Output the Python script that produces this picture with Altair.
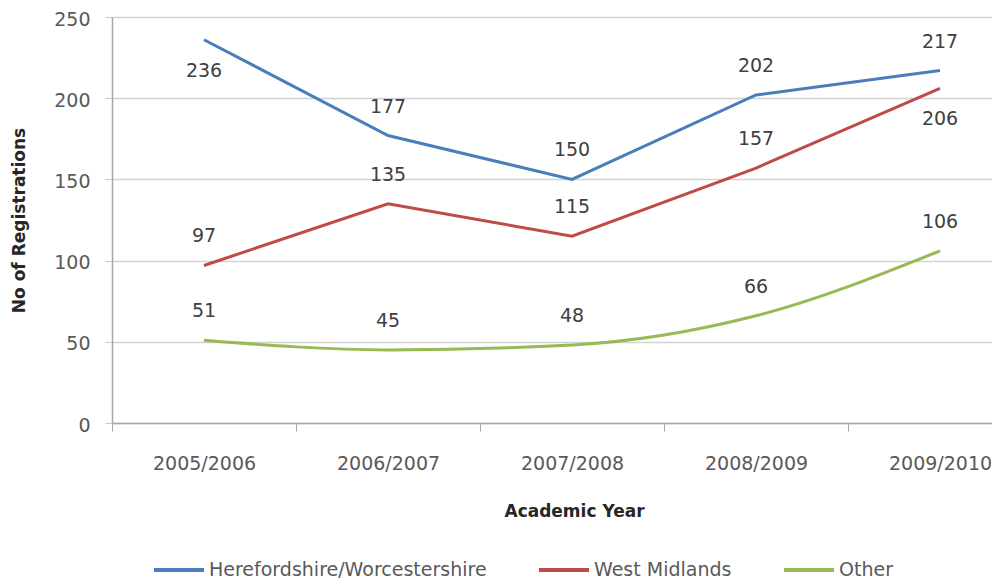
import json
import altair as alt
import pandas as pd

categories = ["2005/2006", "2006/2007", "2007/2008", "2008/2009", "2009/2010"]
series_names = ["Herefordshire/Worcestershire", "West Midlands", "Other"]
hw_values = [236, 177, 150, 202, 217]
wm_values = [97, 135, 115, 157, 206]
other_values = [51, 45, 48, 66, 106]
hw_label_side = ["below", "above", "above", "above", "above"]
wm_label_side = ["above", "above", "above", "above", "below"]
other_label_side = ["above", "above", "above", "above", "above"]
y_ticks = [0, 50, 100, 150, 200, 250]
colors = ["#4A7EBB", "#BE4B48", "#98B954"]

rows = []
for name, vals, sides in zip(series_names,
                             [hw_values, wm_values, other_values],
                             [hw_label_side, wm_label_side, other_label_side]):
    for i, (c, v, s) in enumerate(zip(categories, vals, sides)):
        rows.append({"idx": i, "year": c, "series": name, "value": v, "side": s})
df = pd.DataFrame(rows)

FONT = "DejaVu Sans"
PLOT_W = 880
PLOT_H = 406
STEP = 184
x_max = -0.5 + PLOT_W / STEP

tick_vals = []
for i in range(len(categories)):
    tick_vals.append(i - 0.5)
    tick_vals.append(i)

label_expr = "datum.value % 1 === 0 ? " + json.dumps(categories) + "[datum.value] : ''"

x_enc = alt.X(
    "idx:Q",
    scale=alt.Scale(domain=[-0.5, x_max], nice=False, zero=False),
    axis=alt.Axis(
        values=tick_vals,
        labelExpr=label_expr,
        tickOpacity={"condition": {"test": "datum.value % 1 === 0", "value": 0}, "value": 1},
        tickSize=8,
        tickColor="#a6a6a6",
        domainColor="#a6a6a6",
        domainWidth=1.5,
        labelPadding=23,
        labelFont=FONT,
        labelFontSize=19,
        labelColor="#595959",
        labelOverlap=False,
        labelFlush=False,
        labelBound=False,
        grid=False,
        title="Academic Year",
        titleFont=FONT,
        titleFontSize=17,
        titleFontWeight="bold",
        titleColor="#262626",
        titleX=462,
        titleY=93,
        titleBaseline="alphabetic",
        titleAlign="center",
    ),
)

y_enc = alt.Y(
    "value:Q",
    scale=alt.Scale(domain=[0, 250], nice=False),
    axis=alt.Axis(
        values=y_ticks,
        grid=True,
        gridColor="#d3d3d3",
        gridWidth=1.5,
        tickSize=7,
        tickColor="#c8c8c8",
        domainColor="#a6a6a6",
        domainWidth=1.5,
        labelFont=FONT,
        labelFontSize=19,
        labelColor="#595959",
        labelPadding=15,
        labelOffset=2,
        title="No of Registrations",
        titleFont=FONT,
        titleFontSize=17,
        titleFontWeight="bold",
        titleColor="#262626",
        titleX=-93,
        titleY=PLOT_H / 2,
        titleAngle=270,
        titleBaseline="middle",
        titleAlign="center",
    ),
)

color_enc = alt.Color(
    "series:N",
    scale=alt.Scale(domain=series_names, range=colors),
    legend=alt.Legend(
        orient="none",
        legendX=40,
        legendY=526,
        direction="horizontal",
        symbolType="stroke",
        symbolSize=2500,
        symbolStrokeWidth=4,
        labelFont=FONT,
        labelFontSize=19,
        labelColor="#595959",
        labelOffset=3,
        labelLimit=0,
        columnPadding=44,
        padding=0,
        title=None,
    ),
)

base = alt.Chart(df)

lines_straight = base.transform_filter(alt.datum.series != "Other").mark_line(
    strokeWidth=3
).encode(x=x_enc, y=y_enc, color=color_enc)

line_other = base.transform_filter(alt.datum.series == "Other").mark_line(
    strokeWidth=3, interpolate="monotone"
).encode(x=x_enc, y=y_enc, color=color_enc)

labels_above = base.transform_filter(alt.datum.side == "above").mark_text(
    dy=-29, font=FONT, fontSize=19, color="#404040", baseline="middle"
).encode(x=x_enc, y=y_enc, text="value:Q")

labels_below = base.transform_filter(alt.datum.side == "below").mark_text(
    dy=31, font=FONT, fontSize=19, color="#404040", baseline="middle"
).encode(x=x_enc, y=y_enc, text="value:Q")

chart = alt.layer(lines_straight, line_other, labels_above, labels_below).properties(
    width=PLOT_W,
    height=PLOT_H,
    autosize=alt.AutoSizeParams(type="none"),
    padding={"left": 104, "top": 9, "right": 0, "bottom": 159},
    background="white",
).configure_view(stroke=None)

chart.save("out.html", embed_options={"renderer": "svg", "actions": False})
